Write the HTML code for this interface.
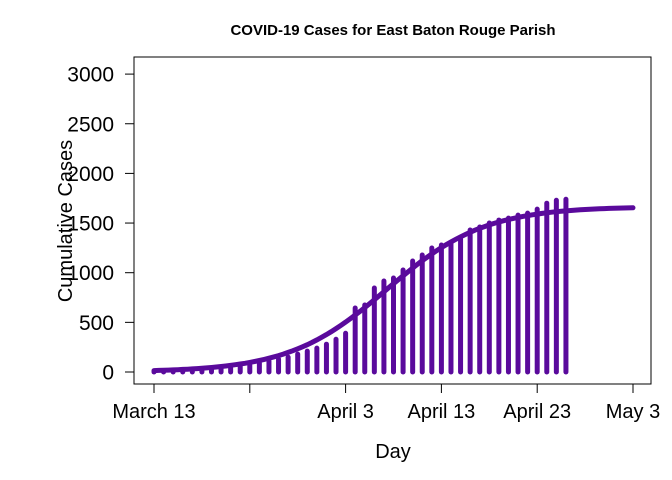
<!DOCTYPE html>
<html><head><meta charset="utf-8"><style>
body{margin:0;background:#fff}
svg{display:block;font-family:"Liberation Sans",Arial,sans-serif}
</style></head><body>
<svg id="chart" width="672" height="480">
<text x="393" y="35" text-anchor="middle" font-size="15" font-weight="bold">COVID-19 Cases for East Baton Rouge Parish</text>
<rect x="134" y="57" width="517" height="327" fill="none" stroke="#000" stroke-width="1"/>
<text x="0" y="0" transform="translate(72,221) rotate(-90)" text-anchor="middle" font-size="20">Cumulative Cases</text>
<text x="393" y="458" text-anchor="middle" font-size="20">Day</text>
<g id="axes"></g><g id="bars"></g><g id="curve"></g>
</svg>
<script>
const days = [0,1,2,3,4,5,6,7,8,9,10,11,12,13,14,15,16,17,18,19,20,21,22,23,24,25,26,27,28,29,30,31,32,33,34,35,36,37,38,39,40,41,42,43];
const cases = [2,5,8,12,15,20,25,30,40,55,70,90,110,130,150,180,210,240,280,330,390,644,675,846,916,947,1027,1118,1178,1249,1279,1299,1349,1430,1460,1500,1530,1550,1580,1600,1640,1700,1730,1740];
const yTicks = [0,500,1000,1500,2000,2500,3000];
const xTicks = [0,10,20,30,40,50];
const xTickLabels = ["March 13","","April 3","April 13","April 23","May 3"];
const fitParams = [1665,0.195,24.3]; // K, r, t0 of logistic fit
const NS="http://www.w3.org/2000/svg", col="#5a0a9c";
const xs=d=>154+d*9.58, ys=v=>372-v*0.0993;
const axes=document.getElementById('axes');
function mk(tag,attrs,parent){const e=document.createElementNS(NS,tag);for(const k in attrs)e.setAttribute(k,attrs[k]);parent.appendChild(e);return e;}
yTicks.forEach(v=>{
  const l=mk('line',{x1:125,x2:134,y1:ys(v),y2:ys(v),stroke:'#000'},axes);
  
  
  const t=mk('text',{x:114,y:ys(v)+7.5,'text-anchor':'end','font-size':21},axes);t.textContent=v;
  
  
});
xTicks.forEach((d,i)=>{
  const l=mk('line',{x1:xs(d),x2:xs(d),y1:384,y2:393,stroke:'#000'},axes);
  
  
  const t=mk('text',{x:xs(d),y:418,'text-anchor':'middle','font-size':20},axes);t.textContent=xTickLabels[i];
  
  
});
const bars=document.getElementById('bars');
days.forEach((d,i)=>{
  const b=mk('line',{x1:xs(d),x2:xs(d),y1:ys(0),y2:ys(cases[i]),stroke:col,'stroke-width':5,'stroke-linecap':'round'},bars);
  
  
});
let p='';
for(let d=0;d<=50;d+=0.5){const [K,r,t0]=fitParams;const v=K/(1+Math.exp(-r*(d-t0)));p+=(d?'L':'M')+xs(d).toFixed(1)+','+ys(v).toFixed(1);}
const c=mk('path',{d:p,fill:'none',stroke:col,'stroke-width':5,'stroke-linecap':'round'},document.getElementById('curve'));


</script>
</body></html>
